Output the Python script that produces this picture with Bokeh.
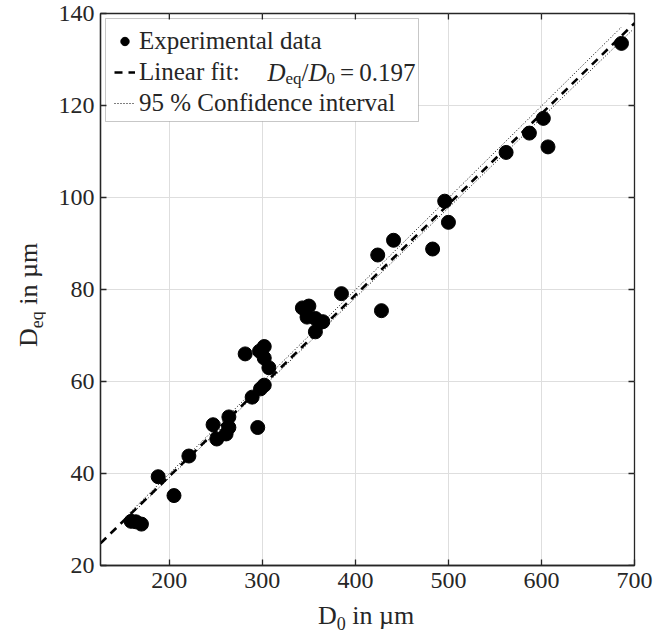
import math
import numpy as np
from bokeh.plotting import figure
from bokeh.models import (FixedTicker, Label, Legend, LegendItem, ColumnDataSource, Div,
                          BoxAnnotation)
from bokeh.layouts import row, column
from bokeh.embed import file_html
from bokeh.resources import INLINE

# ---------------- data ----------------
d0 = [686, 602, 607, 587, 562, 500, 496, 483, 441, 424, 428, 385,
      343, 350, 348, 357, 365, 357, 281.5, 302, 297, 302, 307, 302,
      298, 289, 295, 264, 264, 261, 247, 251, 221, 188, 205, 159, 164, 170]
deq = [133.5, 117.2, 111.0, 114.0, 109.8, 94.6, 99.2, 88.8, 90.7, 87.5, 75.4, 79.1,
       76.0, 76.4, 74.0, 73.7, 73.0, 70.8, 66.0, 67.6, 66.6, 65.1, 63.0, 59.2,
       58.4, 56.6, 50.0, 52.3, 50.0, 48.6, 50.6, 47.5, 43.8, 39.3, 35.2, 29.6, 29.5, 29.0]
fit_slope = 0.197
ci_slope_upper = 0.1998
ci_slope_lower = 0.1955
ci_x_upper = [158, 686]
ci_x_lower = [163, 697]
x_limits = [126, 700]
y_limits = [20, 140]
x_ticks = [200, 300, 400, 500, 600, 700]
y_ticks = [20, 40, 60, 80, 100, 120, 140]

FONT = "Liberation Serif"
INK = "#262626"

p = figure(width=609, height=601, x_range=(x_limits[0], x_limits[1]),
           y_range=(y_limits[0], y_limits[1]), output_backend="svg",
           toolbar_location=None, min_border_left=55, min_border_right=20,
           min_border_top=13, min_border_bottom=36)
p.outline_line_color = INK
p.outline_line_width = 1.3
p.background_fill_color = "white"
p.border_fill_color = "white"

# grid
for g in (p.xgrid[0], p.ygrid[0]):
    g.grid_line_color = "#dedede"
    g.grid_line_width = 1
p.xgrid[0].ticker = FixedTicker(ticks=x_ticks)
p.ygrid[0].ticker = FixedTicker(ticks=y_ticks)

def style_axis(ax, ticks, standoff):
    ax.ticker = FixedTicker(ticks=ticks)
    ax.major_tick_in = 6
    ax.major_tick_out = 0
    ax.minor_tick_line_color = None
    ax.axis_line_color = INK
    ax.axis_line_width = 1.3
    ax.major_tick_line_color = INK
    ax.major_tick_line_width = 1.3
    ax.major_label_text_font = FONT
    ax.major_label_text_font_size = "24px"
    ax.major_label_text_color = INK
    ax.major_label_standoff = standoff

style_axis(p.xaxis[0], x_ticks, 7)
style_axis(p.yaxis[0], y_ticks, 6)

# legend frame: white box with a border, drawn over the grid (canvas units)
p.add_layout(BoxAnnotation(left=60, right=373, top=18, bottom=121,
                           left_units="canvas", right_units="canvas",
                           top_units="canvas", bottom_units="canvas",
                           fill_color="white", fill_alpha=1.0,
                           line_color="#444444", line_width=1, level="underlay"))

# inward ticks on the top and right edges of the box (half of each dash is clipped by the frame)
p.scatter(x=x_ticks, y=[y_limits[1]] * len(x_ticks), marker="dash", angle=math.pi / 2,
          size=12, line_color=INK, line_width=1.3)
p.scatter(x=[x_limits[1]] * len(y_ticks), y=y_ticks, marker="dash",
          size=12, line_color=INK, line_width=1.3)

# fit line
fit_x = np.array(x_limits, dtype=float)
fit_r = p.line(fit_x, fit_slope * fit_x, line_color="black", line_width=2.6, line_dash="8 6")

# confidence interval lines
cu = np.array(ci_x_upper, dtype=float)
cl = np.array(ci_x_lower, dtype=float)
ci_r = p.multi_line(xs=[list(cu), list(cl)],
                    ys=[list(ci_slope_upper * cu), list(ci_slope_lower * cl)],
                    line_color="black", line_width=1.0, line_dash="1 2")

# data
src = ColumnDataSource(dict(x=d0, y=deq))
sc = p.scatter("x", "y", source=src, size=14, fill_color="black", line_color="black")

legend = Legend(items=[LegendItem(label="Experimental data", renderers=[sc]),
                       LegendItem(label="Linear fit:", renderers=[fit_r]),
                       LegendItem(label="95 % Confidence interval", renderers=[ci_r])],
                location="top_left", margin=14, padding=6, spacing=3,
                glyph_width=21, glyph_height=26, label_height=26, label_standoff=4,
                label_width=268, label_text_font=FONT, label_text_font_size="25px",
                label_text_color=INK, border_line_color=None,
                background_fill_alpha=0)
p.add_layout(legend)

# --------- legend math D_eq/D_0 = 0.197 (screen units relative to frame, y up) ---------
W = {'D': .722, 'e': .444, 'q': .5, '0': .5, '1': .5, '9': .5, '7': .5, '.': .25,
     '=': .564, '/': .278}

def tw(s, size):
    return sum(W.get(c, 0.5) for c in s) * size

def runs(items, x0, y0, baseline="middle"):
    pos = 0.0
    for text, size, shift, style, gap in items:
        pos += gap
        p.add_layout(Label(x=x0 + pos, y=y0 - shift, x_units="screen", y_units="screen",
                           text=text, text_font=FONT, text_font_size=f"{size}px",
                           text_font_style=style, text_baseline=baseline, text_color=INK))
        pos += tw(text, size)

runs([("D", 25, 0, "italic", 0), ("eq", 17, 6, "normal", 0), ("/", 25, 0, "normal", 0),
      ("D", 25, 0, "italic", 0), ("0", 17, 6, "normal", 0), ("=", 25, 0, "normal", 5),
      ("0.197", 25, 0, "normal", 5)], 167, 493)

# --------- axis labels (HTML, with subscripts) ---------
lab_style = ("position:absolute; width:200px; height:26px; line-height:26px; text-align:center; "
             "font-family:'Liberation Serif'; font-size:26px; color:#262626; white-space:nowrap;")
sub_style = "font-size:18px; vertical-align:-6px; line-height:0;"
ylab = Div(text=(f'<div style="{lab_style} left:-71px; top:282px; transform:rotate(-90deg);">'
                 f'D<sub style="{sub_style}">eq</sub> in µm</div>'),
           width=45, height=601, margin=0, styles={"position": "relative", "overflow": "visible"})
xlab = Div(text=(f'<div style="{lab_style} left:266px; top:2px;">'
                 f'D<sub style="{sub_style}">0</sub> in µm</div>'),
           width=654, height=40, margin=0, styles={"position": "relative", "overflow": "visible"})

layout = column(row(ylab, p), xlab)
open("out.html", "w").write(file_html(layout, INLINE))
